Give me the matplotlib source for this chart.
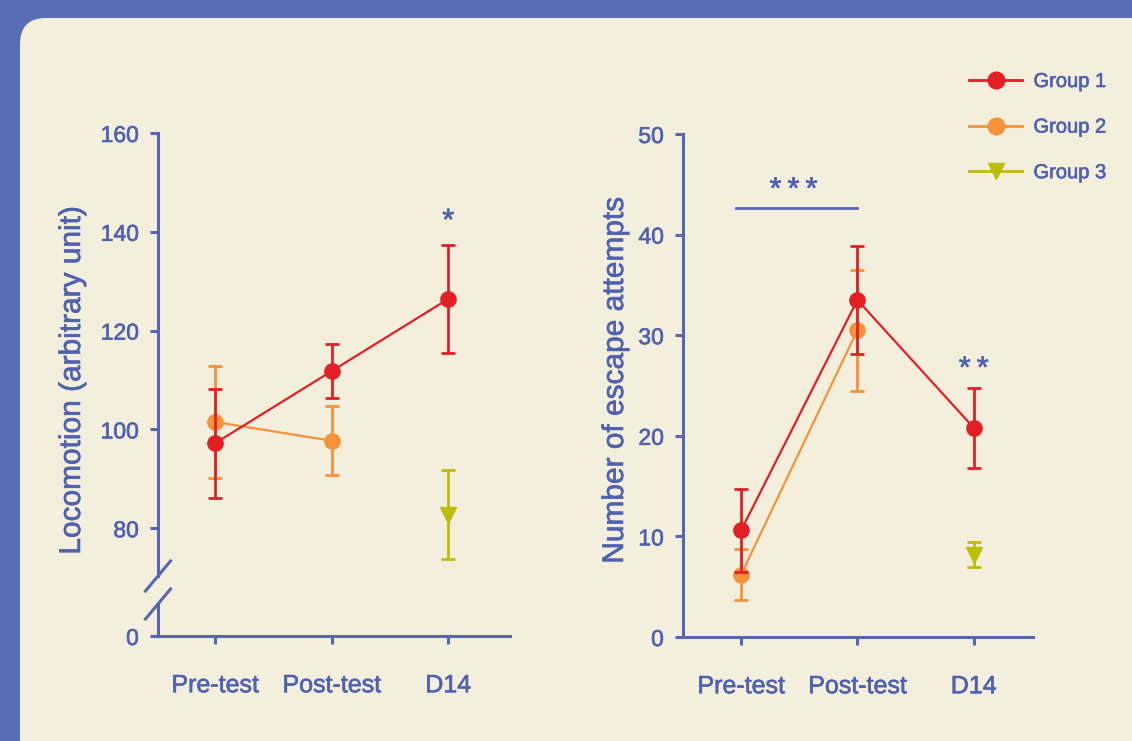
import matplotlib
matplotlib.use("Agg")
import matplotlib.pyplot as plt
from matplotlib.patches import FancyBboxPatch
from matplotlib.lines import Line2D
from matplotlib.transforms import IdentityTransform
import matplotlib.patheffects as pe

plt.rcParams['font.family'] = ['Liberation Sans', 'DejaVu Sans']

# ---------------- data ----------------
categories = ["Pre-test", "Post-test", "D14"]
groups = ["Group 1", "Group 2", "Group 3"]

loco_g1 = [97.2, 111.8, 126.4]
loco_g1_err = [11.0, 5.4, 11.0]
loco_g2 = [101.5, 97.7]
loco_g2_err = [11.3, 7.0]
loco_g3 = [82.7]
loco_g3_err = [9.0]

esc_g1 = [10.6, 33.5, 20.8]
esc_g1_err = [4.1, 5.4, 4.0]
esc_g2 = [6.2, 30.5]
esc_g2_err = [2.5, 6.0]
esc_g3 = [8.2]
esc_g3_err = [1.2]

loco_yticks = [80, 100, 120, 140, 160]
esc_yticks = [0, 10, 20, 30, 40, 50]

# ---------------- style ----------------
BLUE_BG = "#586eb4"
CREAM = "#f4efdc"
AX = "#5566b5"
TXT = "#4f62b0"
RED = "#e31f26"
ORANGE = "#f5923a"
YG = "#bcbe0a"
BOLDEN = [pe.withStroke(linewidth=0.45, foreground=TXT)]

W, H = 1132, 741
fig = plt.figure(figsize=(W / 100, H / 100), dpi=100, facecolor=BLUE_BG)

panel = FancyBboxPatch((20, -60), 1200, H - 18 + 60, boxstyle="round,pad=0,rounding_size=26",
                       transform=IdentityTransform(), facecolor=CREAM, edgecolor="none", zorder=-10)
fig.patches.append(panel)


def fx(px):
    return px / W


def fy(py):
    return 1 - py / H


def style_axis(ax):
    ax.set_facecolor("none")
    ax.set_zorder(2)
    for s in ["top", "right"]:
        ax.spines[s].set_visible(False)
    for s in ["left", "bottom"]:
        ax.spines[s].set_color(AX)
        ax.spines[s].set_linewidth(2.2)
    ax.tick_params(axis="both", colors=AX, width=2.2, length=5.8, direction="out")
    ax.tick_params(axis="y", labelsize=16.5, labelcolor=TXT, pad=8)
    ax.tick_params(axis="x", labelsize=18, labelcolor=TXT, pad=21)


def bolden_ticks(ax):
    for t in ax.get_xticklabels() + ax.get_yticklabels():
        t.set_path_effects(BOLDEN)


def draw_series(ax, xs, ys, errs, color, marker, ms, z):
    ax.errorbar(xs, ys, yerr=errs, color=color, lw=1.6, marker=marker, ms=ms,
                elinewidth=2.0, capsize=5, capthick=2.0, zorder=z, clip_on=False)


xpos = list(range(len(categories)))

# ---------------- left panel (broken axis) ----------------
xl = (-0.49, 2.53)
ax_top = fig.add_axes([fx(158), fy(576), fx(510) - fx(158), fy(133) - fy(576)])
ax_bot = fig.add_axes([fx(158), fy(636), fx(510) - fx(158), fy(604) - fy(636)])
for ax in (ax_top, ax_bot):
    style_axis(ax)
    ax.set_xlim(*xl)

ax_top.set_ylim(160 - (576 - 133) / 4.94, 160)
ax_top.set_yticks(loco_yticks)
ax_top.spines["bottom"].set_visible(False)
ax_top.tick_params(axis="x", bottom=False, labelbottom=False)

ax_bot.set_ylim(0, (636 - 604) / 4.94)
ax_bot.set_yticks([0])
ax_bot.set_xticks(xpos)
ax_bot.set_xticklabels(categories)
bolden_ticks(ax_top)
bolden_ticks(ax_bot)

draw_series(ax_top, xpos[:2], loco_g2, loco_g2_err, ORANGE, "o", 11, 3)
draw_series(ax_top, xpos, loco_g1, loco_g1_err, RED, "o", 11, 4)
draw_series(ax_top, xpos[2:], loco_g3, loco_g3_err, YG, "v", 11, 3)
ax_top.text(2, 140.4, "*", color=TXT, fontsize=22, ha="center", va="baseline",
            path_effects=BOLDEN)

# break marks
for cy in (576, 604):
    fig.add_artist(Line2D([fx(158 - 12.5), fx(158 + 12.5)], [fy(cy + 15), fy(cy - 15)],
                          transform=fig.transFigure, color=AX, lw=2.2, zorder=3))

fig.text(fx(72), fy(380), "Locomotion (arbitrary unit)", rotation=90, color=TXT,
         fontsize=21.5, ha="center", va="center", zorder=3, path_effects=BOLDEN)

# ---------------- right panel ----------------
ax_r = fig.add_axes([fx(683), fy(637), fx(1033) - fx(683), fy(134) - fy(637)])
style_axis(ax_r)
ax_r.set_xlim(-0.5, 2.51)
ax_r.set_ylim(0, 50)
ax_r.set_yticks(esc_yticks)
ax_r.set_xticks(xpos)
ax_r.set_xticklabels(categories)
bolden_ticks(ax_r)

draw_series(ax_r, xpos[:2], esc_g2, esc_g2_err, ORANGE, "o", 11, 3)
draw_series(ax_r, xpos, esc_g1, esc_g1_err, RED, "o", 11, 4)
draw_series(ax_r, xpos[2:], esc_g3, esc_g3_err, YG, "v", 11, 3)

ax_r.plot([-0.04, 1.0], [42.6, 42.6], color=AX, lw=2.0, clip_on=False)
ax_r.text(0.45, 43.6, "*\u2009*\u2009*", color=TXT, fontsize=22, ha="center", va="baseline",
          path_effects=BOLDEN)
ax_r.text(2, 25.8, "*\u2009*", color=TXT, fontsize=22, ha="center", va="baseline",
          path_effects=BOLDEN)

fig.text(fx(615), fy(380), "Number of escape attempts", rotation=90, color=TXT,
         fontsize=21.5, ha="center", va="center", zorder=3, path_effects=BOLDEN)

# ---------------- legend ----------------
handles = [
    Line2D([], [], color=RED, marker="o", ms=12, lw=2),
    Line2D([], [], color=ORANGE, marker="o", ms=12, lw=2),
    Line2D([], [], color=YG, marker="v", ms=12, lw=2),
]
leg = fig.legend(handles, groups, loc="upper left", bbox_to_anchor=(fx(969), fy(72)),
                 frameon=False, fontsize=14.5, handlelength=2.65, handletextpad=0.55,
                 labelspacing=1.32, borderpad=0, borderaxespad=0)
leg.set_zorder(3)
for t in leg.get_texts():
    t.set_color(TXT)
    t.set_path_effects(BOLDEN)

fig.savefig("out.png", dpi=100, facecolor=BLUE_BG)
